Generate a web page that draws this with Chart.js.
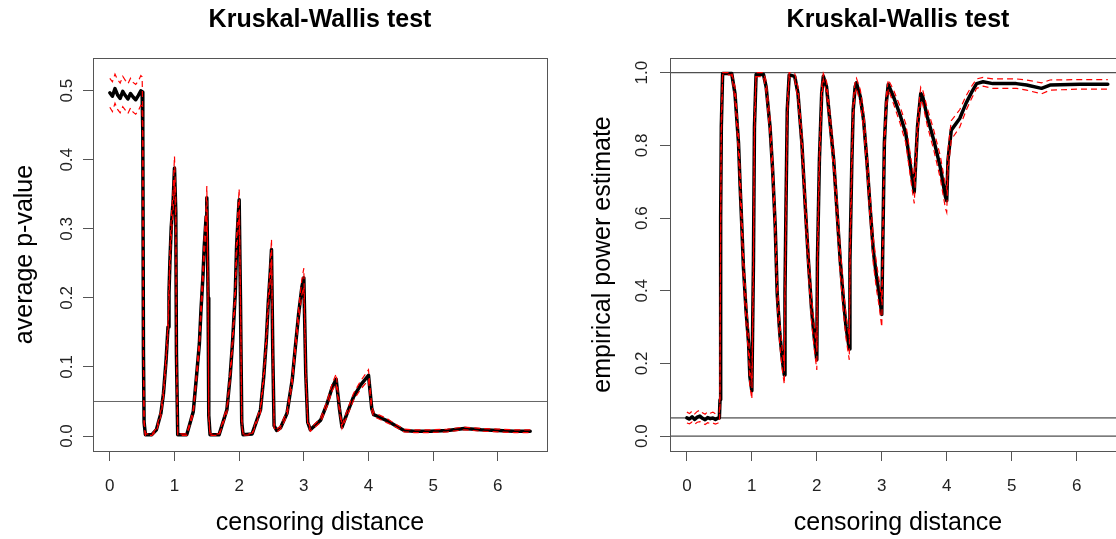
<!DOCTYPE html>
<html>
<head>
<meta charset="utf-8">
<script src="https://cdn.jsdelivr.net/npm/chart.js@4/dist/chart.umd.min.js"></script>
<style>
  html, body { margin: 0; padding: 0; background: #fff; overflow: hidden; }
  #wrap { position: relative; width: 1116px; height: 539px; overflow: hidden; }
  canvas { position: absolute; top: 0; }
</style>
</head>
<body>
<div id="wrap">
  <canvas id="pvalChart" width="558" height="539" style="left:0"></canvas>
  <canvas id="powerChart" width="580" height="539" style="left:558px"></canvas>
</div>
<script>
// ======================================================
// Data — Kruskal-Wallis simulation vs censoring distance
// ======================================================

const xTicks = [0, 1, 2, 3, 4, 5, 6];
const xLimits = [-0.26, 6.76];

// average p-value (mean, lower and upper band)
const pvalX = [0.00, 0.04, 0.08, 0.12, 0.16, 0.20, 0.24, 0.28, 0.32, 0.36, 0.40, 0.44, 0.48, 0.50,
  0.51, 0.52, 0.53, 0.55, 0.65, 0.72, 0.79, 0.83, 0.87, 0.90, 0.915, 0.93, 0.95, 0.98, 1.00,
  1.02, 1.03, 1.05, 1.19, 1.29, 1.34, 1.385, 1.41, 1.44, 1.46, 1.49, 1.50,
  1.52, 1.53, 1.55, 1.69, 1.81, 1.86, 1.90, 1.94, 1.96, 1.985, 2.00,
  2.02, 2.04, 2.06, 2.20, 2.33, 2.38, 2.42, 2.45, 2.48, 2.50,
  2.52, 2.54, 2.58, 2.64, 2.74, 2.82, 2.87, 2.92, 2.97, 3.00,
  3.03, 3.06, 3.10, 3.26, 3.36, 3.44, 3.50, 3.55, 3.59, 3.67, 3.77, 3.88, 4.00,
  4.05, 4.08, 4.13, 4.29, 4.42, 4.55, 4.70, 4.96, 5.22, 5.48, 5.74, 6.00, 6.25, 6.50];
const pvalMean = [0.497, 0.492, 0.503, 0.494, 0.489, 0.499, 0.493, 0.488, 0.496, 0.491, 0.487, 0.493, 0.500, 0.498,
  0.440, 0.120, 0.020, 0.002, 0.002, 0.009, 0.033, 0.062, 0.110, 0.158, 0.207, 0.255, 0.303, 0.342, 0.388,
  0.325, 0.120, 0.002, 0.002, 0.035, 0.086, 0.134, 0.183, 0.231, 0.274, 0.318, 0.345,
  0.200, 0.030, 0.002, 0.002, 0.038, 0.086, 0.139, 0.207, 0.274, 0.318, 0.342,
  0.200, 0.020, 0.002, 0.003, 0.038, 0.086, 0.139, 0.193, 0.236, 0.270,
  0.120, 0.015, 0.008, 0.012, 0.033, 0.081, 0.130, 0.177, 0.216, 0.229,
  0.090, 0.020, 0.009, 0.023, 0.047, 0.071, 0.082, 0.040, 0.013, 0.033, 0.057, 0.074, 0.088,
  0.040, 0.031, 0.029, 0.022, 0.015, 0.008, 0.007, 0.007, 0.008, 0.011, 0.009, 0.008, 0.007, 0.007];
const pvalLow = [0.476, 0.470, 0.482, 0.473, 0.468, 0.477, 0.472, 0.467, 0.475, 0.469, 0.466, 0.471, 0.479, 0.477,
  0.420, 0.112, 0.017, 0.001, 0.001, 0.007, 0.029, 0.057, 0.103, 0.149, 0.196, 0.242, 0.289, 0.327, 0.371,
  0.310, 0.112, 0.001, 0.001, 0.031, 0.080, 0.126, 0.173, 0.219, 0.261, 0.303, 0.329,
  0.190, 0.026, 0.001, 0.001, 0.034, 0.080, 0.131, 0.196, 0.261, 0.303, 0.326,
  0.190, 0.017, 0.001, 0.002, 0.034, 0.080, 0.131, 0.183, 0.224, 0.256,
  0.112, 0.012, 0.006, 0.010, 0.029, 0.075, 0.122, 0.168, 0.205, 0.216,
  0.084, 0.017, 0.007, 0.020, 0.043, 0.066, 0.076, 0.036, 0.011, 0.029, 0.052, 0.068, 0.081,
  0.036, 0.028, 0.026, 0.019, 0.013, 0.006, 0.005, 0.005, 0.006, 0.009, 0.007, 0.006, 0.005, 0.005];
const pvalHigh = [0.518, 0.513, 0.524, 0.516, 0.511, 0.521, 0.515, 0.510, 0.518, 0.512, 0.509, 0.514, 0.522, 0.520,
  0.460, 0.128, 0.023, 0.003, 0.003, 0.011, 0.037, 0.067, 0.117, 0.167, 0.218, 0.268, 0.317, 0.357, 0.405,
  0.340, 0.128, 0.003, 0.003, 0.039, 0.092, 0.142, 0.193, 0.243, 0.287, 0.333, 0.362,
  0.210, 0.034, 0.003, 0.003, 0.042, 0.092, 0.147, 0.218, 0.287, 0.333, 0.358,
  0.210, 0.023, 0.003, 0.004, 0.042, 0.092, 0.147, 0.203, 0.248, 0.285,
  0.128, 0.018, 0.010, 0.014, 0.037, 0.087, 0.138, 0.186, 0.227, 0.243,
  0.096, 0.023, 0.011, 0.026, 0.051, 0.076, 0.090, 0.044, 0.015, 0.037, 0.062, 0.080, 0.096,
  0.044, 0.034, 0.032, 0.025, 0.017, 0.010, 0.009, 0.009, 0.010, 0.013, 0.011, 0.010, 0.009, 0.009];
const pvalTicks = [0, 0.1, 0.2, 0.3, 0.4, 0.5];
const pvalLimits = [-0.0217, 0.5474];
const pvalRefLines = [0.05];

// empirical power (mean, lower and upper band)
const powerX = [0.00, 0.04, 0.08, 0.12, 0.16, 0.20, 0.24, 0.28, 0.32, 0.36, 0.40, 0.44, 0.48, 0.50,
  0.51, 0.52, 0.53, 0.55, 0.69, 0.74, 0.795, 0.82, 0.846, 0.87, 0.91, 0.95, 0.97, 1.00,
  1.025, 1.04, 1.065, 1.18, 1.22, 1.28, 1.32, 1.36, 1.39, 1.43, 1.47, 1.50,
  1.51, 1.525, 1.545, 1.575, 1.66, 1.71, 1.77, 1.82, 1.87, 1.92, 1.96, 2.00,
  2.01, 2.04, 2.075, 2.10, 2.15, 2.20, 2.26, 2.31, 2.36, 2.41, 2.45, 2.50,
  2.51, 2.54, 2.56, 2.59, 2.61, 2.67, 2.72, 2.77, 2.82, 2.87, 2.92, 2.96, 3.00,
  3.02, 3.04, 3.07, 3.10, 3.18, 3.28, 3.37, 3.45, 3.50,
  3.55, 3.60, 3.63, 3.70, 3.80, 3.90, 3.98, 4.00,
  4.02, 4.07, 4.20, 4.30, 4.38, 4.46, 4.56, 4.71, 5.07, 5.23, 5.46, 5.59, 6.05, 6.48];
const powerMean = [0.050, 0.047, 0.053, 0.046, 0.052, 0.055, 0.049, 0.045, 0.051, 0.048, 0.050, 0.046, 0.050, 0.050,
  0.100, 0.600, 0.850, 0.998, 0.998, 0.943, 0.806, 0.686, 0.576, 0.466, 0.347, 0.255, 0.163, 0.125,
  0.484, 0.850, 0.995, 0.995, 0.961, 0.851, 0.732, 0.576, 0.393, 0.283, 0.209, 0.168,
  0.393, 0.622, 0.897, 0.994, 0.990, 0.943, 0.806, 0.640, 0.484, 0.347, 0.273, 0.210,
  0.484, 0.760, 0.943, 0.990, 0.961, 0.870, 0.760, 0.622, 0.484, 0.374, 0.301, 0.240,
  0.484, 0.760, 0.897, 0.961, 0.972, 0.934, 0.870, 0.760, 0.631, 0.510, 0.438, 0.393, 0.335,
  0.576, 0.806, 0.917, 0.968, 0.934, 0.885, 0.833, 0.732, 0.672,
  0.851, 0.943, 0.934, 0.879, 0.815, 0.741, 0.659, 0.648,
  0.760, 0.842, 0.874, 0.917, 0.945, 0.970, 0.975, 0.970, 0.970, 0.966, 0.957, 0.966, 0.968, 0.968];
const powerLow = [0.036, 0.034, 0.039, 0.033, 0.038, 0.040, 0.035, 0.032, 0.037, 0.034, 0.036, 0.033, 0.036, 0.036,
  0.080, 0.560, 0.820, 0.994, 0.994, 0.925, 0.778, 0.652, 0.540, 0.430, 0.313, 0.224, 0.138, 0.102,
  0.448, 0.822, 0.989, 0.989, 0.946, 0.826, 0.701, 0.540, 0.358, 0.251, 0.181, 0.143,
  0.358, 0.587, 0.875, 0.988, 0.982, 0.925, 0.778, 0.605, 0.448, 0.313, 0.241, 0.182,
  0.448, 0.730, 0.925, 0.982, 0.946, 0.846, 0.730, 0.587, 0.448, 0.340, 0.269, 0.210,
  0.448, 0.730, 0.875, 0.946, 0.959, 0.915, 0.846, 0.730, 0.596, 0.474, 0.402, 0.358, 0.300,
  0.540, 0.778, 0.897, 0.955, 0.915, 0.862, 0.807, 0.701, 0.640,
  0.826, 0.925, 0.915, 0.855, 0.788, 0.710, 0.627, 0.616,
  0.730, 0.816, 0.850, 0.897, 0.928, 0.957, 0.963, 0.957, 0.957, 0.952, 0.942, 0.952, 0.955, 0.955];
const powerHigh = [0.066, 0.062, 0.069, 0.061, 0.068, 0.071, 0.064, 0.060, 0.067, 0.063, 0.066, 0.061, 0.066, 0.066,
  0.120, 0.640, 0.880, 1.000, 1.000, 0.961, 0.834, 0.720, 0.612, 0.502, 0.381, 0.286, 0.188, 0.148,
  0.520, 0.878, 1.000, 1.000, 0.976, 0.876, 0.763, 0.612, 0.428, 0.315, 0.237, 0.193,
  0.428, 0.657, 0.919, 1.000, 0.998, 0.961, 0.834, 0.675, 0.520, 0.381, 0.305, 0.238,
  0.520, 0.790, 0.961, 0.998, 0.976, 0.894, 0.790, 0.657, 0.520, 0.408, 0.333, 0.270,
  0.520, 0.790, 0.919, 0.976, 0.985, 0.953, 0.894, 0.790, 0.666, 0.546, 0.474, 0.428, 0.370,
  0.612, 0.834, 0.937, 0.981, 0.953, 0.908, 0.859, 0.763, 0.704,
  0.876, 0.961, 0.953, 0.903, 0.842, 0.772, 0.691, 0.680,
  0.790, 0.868, 0.898, 0.937, 0.962, 0.983, 0.987, 0.983, 0.983, 0.980, 0.972, 0.980, 0.981, 0.981];
const powerTicks = [0, 0.2, 0.4, 0.6, 0.8, 1.0];
const powerLimits = [-0.041, 1.0405];
const powerRefLines = [0, 0.05, 1];

// ======================================================
// Helpers
// ======================================================
const FONT = "'Liberation Sans', Arial, Helvetica, sans-serif";

function toPoints(xs, ys) {
    return xs.map((x, i) => ({ x: x, y: ys[i] }));
}

// plain R-style box around the plot region
const boxPlugin = {
    id: "plotBox",
    afterDraw(chart) {
        const { ctx, chartArea: a } = chart;
        ctx.save();
        ctx.strokeStyle = "#555";
        ctx.lineWidth = 1;
        ctx.strokeRect(Math.round(a.left) + 0.5, Math.round(a.top) + 0.5,
            Math.round(a.right - a.left), Math.round(a.bottom - a.top));
        ctx.restore();
    }
};

function renderPanel(cfg) {
    const ctx = document.getElementById(cfg.canvas).getContext("2d");

    const datasets = [
        {
            data: toPoints(cfg.x, cfg.low),
            borderColor: "#ff0000",
            borderWidth: 1.2,
            borderDash: [6, 4]
        },
        {
            data: toPoints(cfg.x, cfg.high),
            borderColor: "#ff0000",
            borderWidth: 1.2,
            borderDash: [6, 4]
        },
        {
            data: toPoints(cfg.x, cfg.mean),
            borderColor: "#000",
            borderWidth: 3.5,
            borderCapStyle: "round",
            borderJoinStyle: "round"
        }
    ];

    // horizontal reference lines across the whole plot region
    cfg.refLines.forEach(v => {
        datasets.push({
            data: [{ x: xLimits[0], y: v }, { x: xLimits[1], y: v }],
            borderColor: cfg.refColor,
            borderWidth: 1
        });
    });

    new Chart(ctx, {
        type: "line",
        data: { datasets },
        options: {
            responsive: false,
            animation: false,
            devicePixelRatio: 1,
            elements: { point: { radius: 0 }, line: { tension: 0 } },
            layout: { padding: { left: 0, right: cfg.padRight, top: 0, bottom: 0 } },
            plugins: {
                legend: { display: false },
                tooltip: { enabled: false },
                title: {
                    display: true,
                    text: "Kruskal-Wallis test",
                    color: "#000",
                    fullSize: false,
                    font: { family: FONT, size: 25, weight: "bold" },
                    padding: { top: 5, bottom: 23 }
                }
            },
            scales: {
                x: {
                    type: "linear",
                    min: xLimits[0],
                    max: xLimits[1],
                    afterBuildTicks: s => { s.ticks = xTicks.map(v => ({ value: v })); },
                    afterFit: s => { s.height = 88; },
                    border: { display: false },
                    grid: { drawOnChartArea: false, drawTicks: true, tickLength: 10, color: "#555" },
                    ticks: {
                        color: "#222",
                        font: { family: FONT, size: 17 },
                        padding: 15,
                        maxRotation: 0,
                        autoSkip: false
                    },
                    title: {
                        display: true,
                        text: "censoring distance",
                        color: "#000",
                        font: { family: FONT, size: 25 },
                        padding: { top: 0, bottom: 1 }
                    }
                },
                y: {
                    type: "linear",
                    min: cfg.yLimits[0],
                    max: cfg.yLimits[1],
                    afterBuildTicks: s => { s.ticks = cfg.yTicks.map(v => ({ value: v })); },
                    afterFit: s => { s.width = cfg.yWidth; },
                    border: { display: false },
                    grid: { drawOnChartArea: false, drawTicks: true, tickLength: 10, color: "#555" },
                    ticks: {
                        color: "#222",
                        font: { family: FONT, size: 17 },
                        minRotation: 90,
                        maxRotation: 90,
                        crossAlign: "center",
                        padding: cfg.tickPad,
                        autoSkip: false,
                        callback: v => v.toFixed(1)
                    },
                    title: {
                        display: true,
                        text: cfg.yTitle,
                        color: "#000",
                        font: { family: FONT, size: 25 },
                        padding: { top: cfg.yTitlePad, bottom: 0 }
                    }
                }
            }
        },
        plugins: [boxPlugin]
    });
}

// ======================================================
// 1. average p-value
// ======================================================
renderPanel({
    canvas: "pvalChart",
    x: pvalX, mean: pvalMean, low: pvalLow, high: pvalHigh,
    yTicks: pvalTicks, yLimits: pvalLimits, refLines: pvalRefLines,
    refColor: "#666",
    yTitle: "average p-value",
    yWidth: 93, padRight: 11, tickPad: 4, yTitlePad: 10
});

// ======================================================
// 2. empirical power
// ======================================================
renderPanel({
    canvas: "powerChart",
    x: powerX, mean: powerMean, low: powerLow, high: powerHigh,
    yTicks: powerTicks, yLimits: powerLimits, refLines: powerRefLines,
    refColor: "#222",
    yTitle: "empirical power estimate",
    yWidth: 112, padRight: 12, tickPad: 6, yTitlePad: 30
});
</script>
</body>
</html>
